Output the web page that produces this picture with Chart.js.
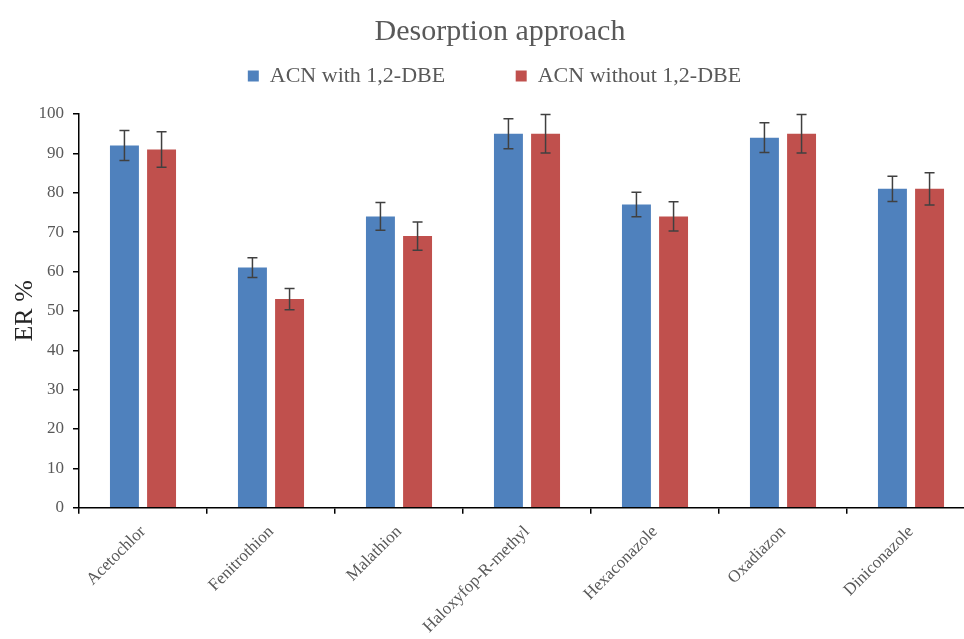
<!DOCTYPE html>
<html>
<head>
<meta charset="utf-8">
<script src="https://cdn.jsdelivr.net/npm/chart.js@4/dist/chart.umd.min.js"></script>
<style>
  html, body { margin: 0; padding: 0; background: #fff; overflow: hidden; }
  #wrap { width: 1000px; height: 645px; }
</style>
</head>
<body>
<div id="wrap"><canvas id="ErChart"></canvas></div>
<script>
(function () {
  "use strict";

  // Data
  const compounds   = ['Acetochlor', 'Fenitrothion', 'Malathion', 'Haloxyfop-R-methyl', 'Hexaconazole', 'Oxadiazon', 'Diniconazole'];
  const withDbe     = [92, 61, 74, 95, 77, 94, 81];
  const withDbeErr  = [3.8, 2.5, 3.5, 3.8, 3.1, 3.8, 3.2];
  const withoutDbe    = [91, 53, 69, 95, 74, 95, 81];
  const withoutDbeErr = [4.5, 2.7, 3.6, 4.9, 3.7, 4.9, 4.1];
  const yTicks = [0, 10, 20, 30, 40, 50, 60, 70, 80, 90, 100];

  // Colors
  const blue_500 = '#4F81BD';
  const red_500  = '#C0504D';
  const text_gray = '#595959';

  // error bars drawn from the y scale
  const errorBars = {
    id: 'errorBars',
    afterDatasetsDraw(chart) {
      const ctx = chart.ctx;
      const y = chart.scales.y;
      chart.data.datasets.forEach(function (ds, i) {
        const meta = chart.getDatasetMeta(i);
        meta.data.forEach(function (bar, j) {
          const v = ds.data[j], e = ds.errors[j];
          const top = y.getPixelForValue(v + e);
          const bot = y.getPixelForValue(v - e);
          ctx.save();
          ctx.strokeStyle = '#404040';
          ctx.lineWidth = 1.5;
          ctx.beginPath();
          ctx.moveTo(bar.x, top); ctx.lineTo(bar.x, bot);
          ctx.moveTo(bar.x - 5, top); ctx.lineTo(bar.x + 5, top);
          ctx.moveTo(bar.x - 5, bot); ctx.lineTo(bar.x + 5, bot);
          ctx.stroke();
          ctx.restore();
        });
      });
    }
  };

  // extra space under the legend
  const legendGap = {
    id: 'legendGap',
    afterInit(chart) {
      const legend = chart.legend;
      const fit = legend.fit;
      legend.fit = function () {
        fit.call(this);
        this.height += 17;
      };
    }
  };

  Chart.defaults.font.family = "'Liberation Serif', 'Times New Roman', serif";
  Chart.defaults.color = text_gray;

  const ctx = document.getElementById('ErChart').getContext('2d');
  new Chart(ctx, {
    type: 'bar',
    data: {
      labels: compounds,
      datasets: [{
        label: 'ACN with 1,2-DBE',
        data: withDbe,
        errors: withDbeErr,
        backgroundColor: blue_500,
        barPercentage: 0.78,
        categoryPercentage: 0.58
      }, {
        label: 'ACN without 1,2-DBE',
        data: withoutDbe,
        errors: withoutDbeErr,
        backgroundColor: red_500,
        barPercentage: 0.78,
        categoryPercentage: 0.58
      }]
    },
    options: {
      responsive: true,
      maintainAspectRatio: false,
      animation: false,
      layout: {
        padding: { left: 25, right: 25, top: 10, bottom: 0 }
      },
      scales: {
        x: {
          grid: {
            offset: true,
            drawOnChartArea: false,
            color: '#000',
            tickLength: 6,
            lineWidth: 1.5
          },
          border: { color: '#000', width: 1.5 },
          ticks: {
            color: text_gray,
            font: { size: 17 },
            minRotation: 45,
            maxRotation: 45,
            padding: 8
          }
        },
        y: {
          min: 0,
          max: 100,
          afterBuildTicks: function (axis) {
            axis.ticks = yTicks.map(function (v) { return { value: v }; });
          },
          afterFit: function (axis) {
            axis.width = 54;
          },
          grid: {
            drawOnChartArea: false,
            color: '#000',
            tickLength: 6,
            lineWidth: 1.5
          },
          border: { color: '#000', width: 1.5 },
          ticks: {
            color: text_gray,
            font: { size: 17 },
            padding: 9
          },
          title: {
            display: true,
            text: 'ER %',
            color: '#262626',
            font: { size: 26 },
            padding: { top: -15, bottom: 0 }
          }
        }
      },
      plugins: {
        title: {
          display: true,
          text: 'Desorption approach',
          color: text_gray,
          font: { size: 30, weight: 'normal' },
          padding: { top: 4, bottom: 5 }
        },
        legend: {
          display: true,
          position: 'top',
          labels: {
            color: text_gray,
            font: { size: 22 },
            boxWidth: 11,
            boxHeight: 11,
            padding: 10,
            // wider gap between the two items without growing the legend height
            generateLabels: function (chart) {
              const items = Chart.defaults.plugins.legend.labels.generateLabels(chart);
              items[0].text = items[0].text + '\u00a0\u00a0\u00a0\u00a0\u00a0\u00a0\u00a0\u00a0\u00a0\u00a0\u00a0';
              items[1].text = items[1].text + '\u00a0\u00a0';
              return items;
            }
          }
        },
        tooltip: { enabled: false }
      }
    },
    plugins: [errorBars, legendGap]
  });
})();
</script>
</body>
</html>
